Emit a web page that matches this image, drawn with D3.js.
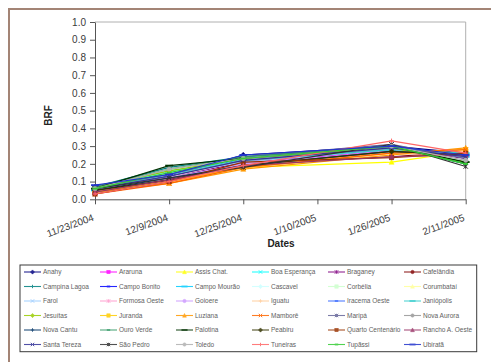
<!DOCTYPE html>
<html>
<head>
<meta charset="utf-8">
<script src="https://cdn.jsdelivr.net/npm/d3@7"></script>
<style>
  html, body { margin: 0; padding: 0; background: #fff; }
  svg { display: block; font-family: "Liberation Sans", Arial, sans-serif; }
</style>
</head>
<body>
<svg id="chart" width="491" height="362"></svg>
<script>
// Composite dates (16-day periods)
const dates = ["2004-11-23", "2004-12-09", "2004-12-25", "2005-01-26", "2005-02-11"];
const tickDates = ["2004-11-23", "2004-12-09", "2004-12-25", "2005-01-10", "2005-01-26", "2005-02-11"];
const yTicks = [0, 0.1, 0.2, 0.3, 0.4, 0.5, 0.6, 0.7, 0.8, 0.9, 1.0];

// Municipalities (series), in legend order
const municipalities = [
  "Anahy", "Araruna", "Assis Chat.", "Boa Esperança", "Braganey", "Cafelândia",
  "Campina Lagoa", "Campo Bonito", "Campo Mourão", "Cascavel", "Corbélia", "Corumbataí",
  "Farol", "Formosa Oeste", "Goioere", "Iguatu", "Iracema Oeste", "Janiópolis",
  "Jesuítas", "Juranda", "Luziana", "Mamborê", "Maripá", "Nova Aurora",
  "Nova Cantu", "Ouro Verde", "Palotina", "Peabiru", "Quarto Centenário", "Rancho A. Oeste",
  "Santa Tereza", "São Pedro", "Toledo", "Tuneiras", "Tupãssi", "Ubiratã"
];

// BRF per municipality, one value per composite date
const brf = [
  [0.070, 0.130, 0.250, 0.300, 0.260],
  [0.040, 0.110, 0.210, 0.270, 0.250],
  [0.050, 0.100, 0.180, 0.210, 0.270],
  [0.060, 0.160, 0.220, 0.280, 0.240],
  [0.050, 0.120, 0.210, 0.280, 0.230],
  [0.040, 0.110, 0.200, 0.240, 0.270],
  [0.070, 0.180, 0.240, 0.300, 0.200],
  [0.060, 0.130, 0.230, 0.290, 0.250],
  [0.050, 0.150, 0.220, 0.290, 0.240],
  [0.060, 0.150, 0.230, 0.300, 0.220],
  [0.060, 0.140, 0.220, 0.290, 0.210],
  [0.050, 0.120, 0.190, 0.260, 0.260],
  [0.060, 0.140, 0.210, 0.280, 0.240],
  [0.050, 0.120, 0.200, 0.260, 0.250],
  [0.050, 0.120, 0.200, 0.270, 0.250],
  [0.040, 0.100, 0.180, 0.250, 0.270],
  [0.070, 0.140, 0.240, 0.300, 0.240],
  [0.060, 0.140, 0.220, 0.280, 0.260],
  [0.070, 0.160, 0.230, 0.290, 0.210],
  [0.040, 0.100, 0.180, 0.260, 0.280],
  [0.040, 0.090, 0.170, 0.250, 0.290],
  [0.030, 0.090, 0.180, 0.260, 0.280],
  [0.070, 0.140, 0.240, 0.310, 0.230],
  [0.060, 0.130, 0.220, 0.290, 0.240],
  [0.050, 0.120, 0.190, 0.270, 0.250],
  [0.070, 0.170, 0.240, 0.300, 0.200],
  [0.060, 0.190, 0.230, 0.300, 0.210],
  [0.050, 0.110, 0.190, 0.270, 0.250],
  [0.030, 0.100, 0.210, 0.235, 0.260],
  [0.040, 0.110, 0.190, 0.240, 0.250],
  [0.060, 0.130, 0.220, 0.290, 0.240],
  [0.060, 0.120, 0.180, 0.310, 0.185],
  [0.060, 0.170, 0.230, 0.300, 0.220],
  [0.030, 0.100, 0.190, 0.330, 0.260],
  [0.060, 0.150, 0.230, 0.300, 0.200],
  [0.080, 0.140, 0.250, 0.300, 0.250]
];

const colors = [
  "#000080", "#FF00FF", "#FFFF00", "#00FFFF", "#800080", "#800000",
  "#008080", "#0000FF", "#00CCFF", "#CCFFFF", "#CCFFCC", "#FFFF99",
  "#99CCFF", "#FF99CC", "#CC99FF", "#FFCC99", "#3366FF", "#33CCCC",
  "#99CC00", "#FFCC00", "#FF9900", "#FF6600", "#666699", "#969696",
  "#003366", "#339966", "#003300", "#333300", "#993300", "#993366",
  "#333399", "#333333", "#B0B0B0", "#FF6666", "#33CC33", "#2233CC"
];
const markerCycle = ["diamond", "square", "triangle", "x", "star", "circle", "plus", "dash", "longdash"];

const parse = d3.timeParse("%Y-%m-%d");
const fmt = d3.timeFormat("%-m/%-d/%Y");

const svg = d3.select("#chart");
const plot = { left: 95, right: 465.7, top: 22, bottom: 199.3 };

// Outer chart frame (runs past the right and bottom edges)
svg.append("rect").attr("x", 9).attr("y", 9).attr("width", 520).attr("height", 420)
  .attr("fill", "#fff").attr("stroke", "#a38475").attr("stroke-width", 2);

const x = d3.scaleTime()
  .domain([parse(tickDates[0]), parse(tickDates[tickDates.length - 1])])
  .range([plot.left, plot.right]);
const y = d3.scaleLinear().domain([0, 1]).range([plot.bottom, plot.top]);

// Plot area outline (top and right)
svg.append("path")
  .attr("d", `M${plot.left},${plot.top}H${plot.right}V${plot.bottom}`)
  .attr("fill", "none").attr("stroke", "#b0b0b0").attr("stroke-width", 1);

// Y axis
const yAxis = svg.append("g").attr("transform", `translate(${plot.left},0)`)
  .call(d3.axisLeft(y).tickValues(yTicks).tickFormat(d3.format(".1f")).tickSize(5).tickSizeOuter(0));
yAxis.select(".domain").attr("stroke", "#555");
yAxis.selectAll(".tick line").attr("stroke", "#555");
yAxis.selectAll(".tick text").attr("font-size", 10).attr("fill", "#3a3a3a")
  .attr("font-family", "Liberation Sans, Arial, sans-serif").attr("x", -9);

// X axis
const xAxis = svg.append("g").attr("transform", `translate(0,${plot.bottom})`)
  .call(d3.axisBottom(x).tickValues(tickDates.map(parse)).tickFormat(fmt).tickSize(5).tickSizeOuter(0));
xAxis.select(".domain").attr("stroke", "#555");
xAxis.selectAll(".tick line").attr("stroke", "#555");
xAxis.selectAll(".tick text")
  .attr("font-size", 10).attr("fill", "#3a3a3a")
  .attr("font-family", "Liberation Sans, Arial, sans-serif")
  .attr("text-anchor", "end").attr("y", 0).attr("dy", 0)
  .attr("transform", "translate(-1,21) rotate(-20)");

// Axis titles
svg.append("text").attr("transform", "translate(52,115.5) rotate(-90)")
  .attr("text-anchor", "middle").attr("font-size", 10).attr("font-weight", "bold")
  .attr("fill", "#222").text("BRF");
svg.append("text").attr("x", 281).attr("y", 246.5)
  .attr("text-anchor", "middle").attr("font-size", 10).attr("font-weight", "bold")
  .attr("fill", "#222").text("Dates");

// Marker drawing
function drawMarker(g, type, color, cx, cy, s) {
  switch (type) {
    case "diamond":
      g.append("path").attr("d", `M${cx},${cy - s * 1.25}L${cx + s * 1.25},${cy}L${cx},${cy + s * 1.25}L${cx - s * 1.25},${cy}Z`)
        .attr("fill", color).attr("stroke", color).attr("stroke-width", 0.5);
      break;
    case "square":
      g.append("rect").attr("x", cx - s).attr("y", cy - s).attr("width", 2 * s).attr("height", 2 * s)
        .attr("fill", color).attr("stroke", color).attr("stroke-width", 0.5);
      break;
    case "triangle":
      g.append("path").attr("d", `M${cx},${cy - s * 1.2}L${cx + s * 1.15},${cy + s}L${cx - s * 1.15},${cy + s}Z`)
        .attr("fill", color).attr("stroke", color).attr("stroke-width", 0.5);
      break;
    case "x":
      g.append("path").attr("d", `M${cx - s},${cy - s}L${cx + s},${cy + s}M${cx - s},${cy + s}L${cx + s},${cy - s}`)
        .attr("stroke", color).attr("stroke-width", 1).attr("fill", "none");
      break;
    case "star":
      g.append("path").attr("d", `M${cx - s},${cy - s}L${cx + s},${cy + s}M${cx - s},${cy + s}L${cx + s},${cy - s}M${cx},${cy - s}V${cy + s}`)
        .attr("stroke", color).attr("stroke-width", 1).attr("fill", "none");
      break;
    case "circle":
      g.append("circle").attr("cx", cx).attr("cy", cy).attr("r", s)
        .attr("fill", color).attr("stroke", color).attr("stroke-width", 0.5);
      break;
    case "plus":
      g.append("path").attr("d", `M${cx - s},${cy}H${cx + s}M${cx},${cy - s}V${cy + s}`)
        .attr("stroke", color).attr("stroke-width", 1).attr("fill", "none");
      break;
    case "dash":
      g.append("path").attr("d", `M${cx - s},${cy}H${cx + s}`)
        .attr("stroke", color).attr("stroke-width", 1.8).attr("fill", "none");
      break;
    case "longdash":
      g.append("path").attr("d", `M${cx - s * 1.8},${cy}H${cx + s * 1.8}`)
        .attr("stroke", color).attr("stroke-width", 1.8).attr("fill", "none");
      break;
  }
}

// Series lines and markers
const line = d3.line().x((d, i) => x(parse(dates[i]))).y(d => y(d));
const seriesG = svg.append("g");
municipalities.forEach((name, k) => {
  const g = seriesG.append("g");
  g.append("path").datum(brf[k]).attr("d", line)
    .attr("fill", "none").attr("stroke", colors[k]).attr("stroke-width", 1.2);
  brf[k].forEach((v, i) => drawMarker(g, markerCycle[k % markerCycle.length], colors[k], x(parse(dates[i])), y(v), 2.2));
});

// Legend
const legend = { x: 20, y: 265, w: 456.7, h: 86.7, col0: 24, colStep: 76, row0: 272, rowStep: 14.5 };
svg.append("rect").attr("x", legend.x).attr("y", legend.y).attr("width", legend.w).attr("height", legend.h)
  .attr("fill", "#fff").attr("stroke", "#3a3a3a").attr("stroke-width", 1);
municipalities.forEach((name, k) => {
  const col = k % 6, row = Math.floor(k / 6);
  const lx = legend.col0 + col * legend.colStep;
  const ly = legend.row0 + row * legend.rowStep;
  const g = svg.append("g").attr("opacity", 0.85);
  g.append("line").attr("x1", lx).attr("x2", lx + 17).attr("y1", ly).attr("y2", ly)
    .attr("stroke", colors[k]).attr("stroke-width", 1.1);
  drawMarker(g, markerCycle[k % markerCycle.length], colors[k], lx + 8.5, ly, 1.7);
  g.append("text").attr("x", lx + 19).attr("y", ly).attr("dy", "0.35em")
    .attr("font-size", 6.5).attr("fill", "#444").text(name);
});
</script>
</body>
</html>
